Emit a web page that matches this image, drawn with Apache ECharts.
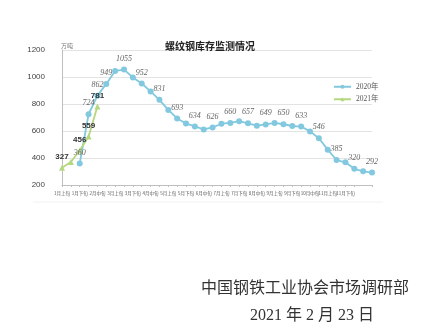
<!DOCTYPE html>
<html><head><meta charset="utf-8">
<script src="https://cdn.jsdelivr.net/npm/echarts@6/dist/echarts.min.js"></script>
<style>html,body{margin:0;padding:0;background:#fff}#c{width:422px;height:328px}</style>
</head><body><div id="c"></div>
<script>
const categories = ['1月上旬','1月中旬','1月下旬','2月上旬','2月中旬','2月下旬','3月上旬','3月中旬','3月下旬','4月上旬','4月中旬','4月下旬','5月上旬','5月中旬','5月下旬','6月上旬','6月中旬','6月下旬','7月上旬','7月中旬','7月下旬','8月上旬','8月中旬','8月下旬','9月上旬','9月中旬','9月下旬','10月上旬','10月中旬','10月下旬','11月上旬','11月中旬','11月下旬','12月上旬','12月中旬','12月下旬'];
const values2020 = [null,null,360,724,862,949,1045,1055,997,952,893,831,756,693,656,634,612,626,654,660,673,657,639,649,660,650,637,633,597,546,462,385,368,320,301,292];
const values2021 = [327,370,456,559,781];
const labeled2020 = [2,3,4,5,7,9,11,13,15,17,19,21,23,25,27,29,31,33,35];
const labeled2021 = [0,2,3,4];
const yTicks = [200,400,600,800,1000,1200];

const blue = '#82c9e0', green = '#b5d77f';
const d2020 = values2020.map((v,i)=>({value:v,label:{show:labeled2020.includes(i)}}));
const d2021 = values2021.map((v,i)=>({value:v,label:{show:labeled2021.includes(i)}}));

const chart = echarts.init(document.getElementById('c'));
chart.setOption({
  animation:false,
  backgroundColor:'#fff',
  title:[
    {text:'螺纹钢库存监测情况',left:205,top:36,textAlign:'center',textStyle:{fontSize:10,fontWeight:'bold',color:'#222',fontFamily:'Noto Sans CJK SC'}},
    {text:'万吨',left:56,top:38,textStyle:{fontSize:6,fontWeight:'normal',color:'#777',fontFamily:'Noto Sans CJK SC'}},
    {text:'中国钢铁工业协会市场调研部',left:300,top:274,textAlign:'center',textStyle:{fontSize:16,fontWeight:'normal',color:'#333',fontFamily:'Noto Sans CJK SC'}},
    {text:'2021 年 2 月 23 日',left:307,top:303,textAlign:'center',textStyle:{fontSize:16,fontWeight:'normal',color:'#333',fontFamily:'Liberation Serif, Noto Sans CJK SC'}}
  ],
  legend:{orient:'vertical',left:328,top:78,itemWidth:17,itemHeight:5,itemGap:5,
    textStyle:{fontSize:7.5,color:'#555',fontFamily:'Liberation Serif, Noto Sans CJK SC'},
    data:['2020年','2021年']},
  grid:{left:62,right:50,top:50,bottom:143},
  xAxis:{type:'category',data:categories,boundaryGap:false,
    axisLine:{lineStyle:{color:'#bfbfbf'}},
    axisTick:{interval:0,length:2,lineStyle:{color:'#bfbfbf'}},
    axisLabel:{interval:1,fontSize:4.5,color:'#555',margin:6,fontFamily:'Noto Sans CJK SC'}},
  yAxis:{type:'value',min:yTicks[0],max:yTicks[yTicks.length-1],interval:200,
    axisLine:{show:true,lineStyle:{color:'#bfbfbf'}},
    axisTick:{show:false},
    splitLine:{lineStyle:{color:'#e3e3e3'}},
    axisLabel:{fontSize:8,color:'#444',margin:17,fontFamily:'Liberation Sans',formatter:v=>String(v)}},
  series:[
    {name:'2020年',type:'line',data:d2020,connectNulls:false,symbol:'circle',symbolSize:6,showAllSymbol:true,
      itemStyle:{color:blue},lineStyle:{color:blue,width:1.8},labelLayout:{hideOverlap:false},
      label:{position:'top',distance:4,fontSize:8,fontStyle:'italic',color:'#666',fontFamily:'Liberation Serif'}},
    {name:'2021年',type:'line',data:d2021,symbol:'triangle',symbolSize:6,showAllSymbol:true,
      itemStyle:{color:green},lineStyle:{color:green,width:1.8},labelLayout:{hideOverlap:false},
      label:{position:'top',distance:4,fontSize:8,fontWeight:'bold',color:'#333',fontFamily:'Liberation Sans'}}
  ],
  graphic:[{type:'line',shape:{x1:33,y1:202,x2:383,y2:202},style:{stroke:'#f2f2f2',lineWidth:1}}]
});
</script></body></html>
